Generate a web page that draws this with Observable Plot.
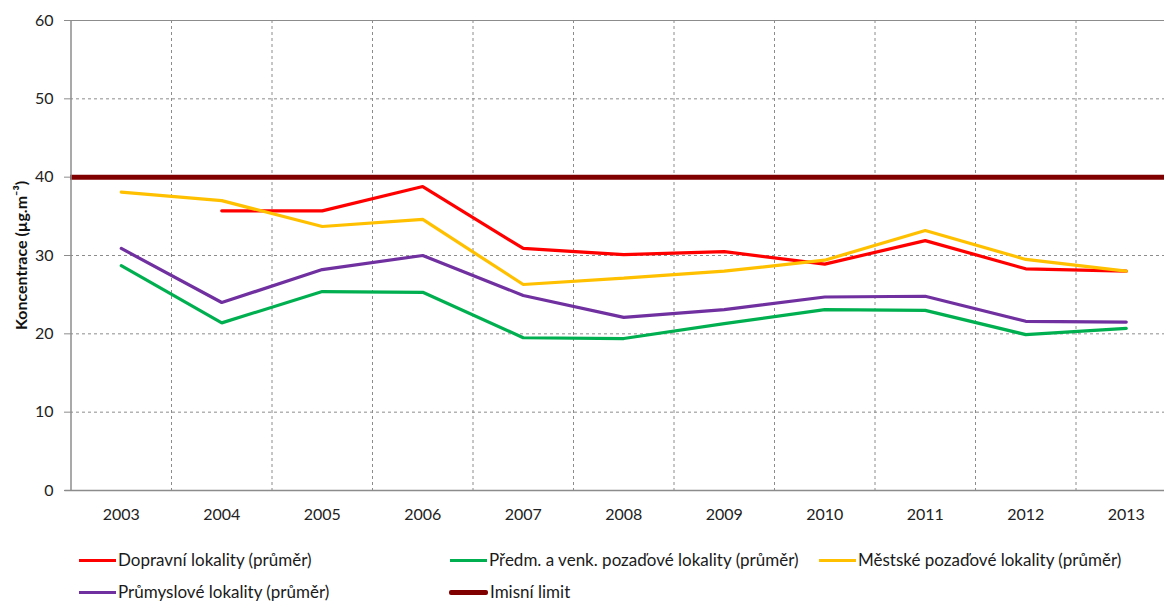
<!DOCTYPE html>
<html>
<head>
<meta charset="utf-8">
<script src="https://cdn.jsdelivr.net/npm/d3@7"></script>
<script src="https://cdn.jsdelivr.net/npm/@observablehq/plot@0.6"></script>
<style>
  html, body { margin: 0; padding: 0; background: #fff; overflow: hidden; }
  body { font-family: Lato, "Open Sans", sans-serif; width: 1164px; height: 603px; position: relative; }
  #legend { position: absolute; left: 0; top: 0; width: 1164px; height: 603px; pointer-events: none; }
  .item { position: absolute; display: flex; align-items: center; font-size: 17px; line-height: 20px; color: #1a1a1a; white-space: nowrap; }
  .swatch { display: inline-block; height: 3px; margin-right: 2px; }
</style>
</head>
<body>
<div id="chart"></div>
<div id="legend"></div>
<script>
const years = [2003, 2004, 2005, 2006, 2007, 2008, 2009, 2010, 2011, 2012, 2013];
const dopravni = [null, 35.7, 35.7, 38.8, 30.9, 30.1, 30.5, 28.9, 31.9, 28.3, 28.0];
const predmesti = [28.7, 21.4, 25.4, 25.3, 19.5, 19.4, 21.3, 23.1, 23.0, 19.9, 20.7];
const mestske = [38.1, 37.0, 33.7, 34.6, 26.3, 27.1, 28.0, 29.4, 33.2, 29.5, 28.0];
const prumyslove = [30.9, 24.0, 28.2, 30.0, 24.9, 22.1, 23.1, 24.7, 24.8, 21.6, 21.5];
const limit = 40;
const seriesNames = [
  "Dopravní lokality (průměr)",
  "Předm. a venk. pozaďové lokality (průměr)",
  "Městské pozaďové lokality (průměr)",
  "Průmyslové lokality (průměr)",
  "Imisní limit"
];
const seriesColors = ["#FF0000", "#00B050", "#FFC000", "#7030A0", "#800000"];
const yTicks = [0, 10, 20, 30, 40, 50, 60];
const yLabel = "Koncentrace (µg.m⁻³)";

const seriesValues = [dopravni, predmesti, mestske, prumyslove];
const rows = [];
seriesValues.forEach((vals, i) => {
  years.forEach((yr, j) => {
    if (vals[j] != null) rows.push({series: seriesNames[i], year: yr, value: vals[j]});
  });
});
const boundaries = years.slice(0, -1).map(y => y + 0.5);
const xMin = years[0] - 0.5, xMax = years[years.length - 1] + 0.5;

const chart = Plot.plot({
  width: 1164,
  height: 530,
  marginTop: 20,
  marginBottom: 40,
  marginLeft: 70,
  marginRight: 0,
  style: {fontFamily: "Lato, 'Open Sans', sans-serif", fontSize: "16px", color: "#222", overflow: "hidden"},
  x: {type: "linear", domain: [xMin, xMax], range: [70.5, 1176]},
  y: {domain: [0, 60]},
  color: {domain: seriesNames, range: seriesColors},
  marks: [
    Plot.ruleY(yTicks.filter(t => t > 0 && t < 60), {y: d => d, stroke: "#8c8c8c", strokeDasharray: "3,3", strokeWidth: 1}),
    Plot.ruleX(boundaries, {x: d => d, stroke: "#8c8c8c", strokeDasharray: "3,3", strokeWidth: 1}),
    Plot.ruleY([60], {stroke: "#8c8c8c", strokeWidth: 1}),
    Plot.ruleY([limit], {stroke: seriesColors[4], strokeWidth: 5}),
    Plot.line(rows, {x: "year", y: "value", z: "series", stroke: "series", strokeWidth: 3.2, strokeLinejoin: "miter"}),
    Plot.axisY({ticks: yTicks, tickSize: 6, tickPadding: 11, label: null, stroke: "#8c8c8c", tickFormat: d => d}),
    Plot.axisX({ticks: years, tickSize: 0, tickPadding: 18, label: null, tickFormat: d => String(d)}),
    Plot.ruleX([xMin], {stroke: "#8c8c8c", strokeWidth: 1.5}),
    Plot.ruleY([0], {stroke: "#8c8c8c", strokeWidth: 1.5, x1: xMin - 0.06, x2: xMax}),
    Plot.text([yLabel], {frameAnchor: "left", rotate: -90, dx: -49, textAnchor: "middle", fontWeight: "bold", fontSize: 16, fill: "#111", text: d => d})
  ]
});
document.getElementById("chart").appendChild(chart);

const legendPos = [
  {left: 79, top: 560, sw: 37}, {left: 450, top: 560, sw: 37}, {left: 819, top: 560, sw: 37},
  {left: 79, top: 592, sw: 37}, {left: 449, top: 592, sw: 39}
];
const legend = document.getElementById("legend");
seriesNames.forEach((name, i) => {
  const it = document.createElement("div");
  it.className = "item";
  it.style.left = legendPos[i].left + "px";
  it.style.top = (legendPos[i].top - 10) + "px";
  const sw = document.createElement("span");
  sw.className = "swatch";
  sw.style.width = legendPos[i].sw + "px";
  sw.style.background = seriesColors[i];
  if (i === 4) { sw.style.height = "5px"; sw.style.borderRadius = "2px"; }
  it.appendChild(sw);
  it.appendChild(document.createTextNode(name));
  legend.appendChild(it);
});
</script>
</body>
</html>
